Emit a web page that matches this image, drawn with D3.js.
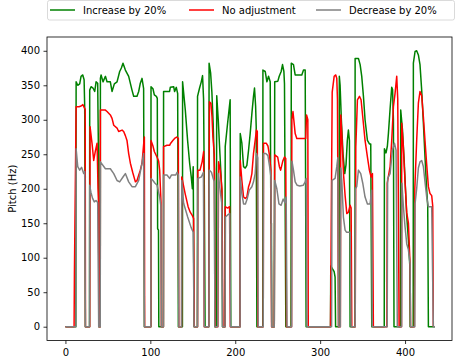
<!DOCTYPE html>
<html>
<head>
<meta charset="utf-8">
<script src="https://cdn.jsdelivr.net/npm/d3@7"></script>
<style>
  body { margin: 0; background: #fff; }
  svg { display: block; font-family: "DejaVu Sans", sans-serif; }
</style>
</head>
<body>
<div id="chart"></div>
<script>
// frame index vs pitch (Hz)
const seriesNames = ["Increase by 20%", "No adjustment", "Decrease by 20%"];
const seriesColors = ["green", "red", "gray"];
const xTicks = [0, 100, 200, 300, 400];
const yTicks = [0, 50, 100, 150, 200, 250, 300, 350, 400];

const increasePitch = [
  [0,0],[12.2,0],[12.6,355],[14.5,350],[16.8,352],[18.4,363],[20.4,365],[22,358],[22.7,319],[23.5,0],
  [28.4,0],[28.6,343],[30.2,348],[32.5,346],[34.5,341],[36.1,355],[38,353],[39,240],[39.4,0],
  [41,0],[41.2,360],[42,365],[44.3,355],[47.1,363],[49,355],[52.9,355],[54.9,341],[57.6,352],[60.8,355],
  [63.9,370],[65.9,375],[67.8,382],[70.6,372],[74.5,363],[78.4,343],[80.4,334],[84.3,334],[86.3,341],
  [88.2,353],[90.2,360],[92.1,345],[93,0],
  [100.6,0],[100.8,348],[103.1,345],[104.7,336],[107.1,334],[108.2,331],[108.6,142],[109.6,140],[110,0],
  [115.4,0],[115.6,341],[119.6,341],[122.7,341],[123.5,347],[127.5,348],[128.6,341],[130.6,347],[132.2,338],[133,0],
  [137.8,0],[138,355],[141.2,314],[143.9,270],[146.3,237],[148.2,217],[149.5,200],[150.5,232],[151.5,0],
  [155.4,0],[155.6,334],[158,346],[160,355],[161.5,364],[162.7,330],[163.5,217],[164.5,0],
  [168.8,0],[169.2,382],[171,368],[172.5,340],[174,295],[175.5,230],[176,0],
  [177.6,0],[178.2,335],[180,300],[182,250],[184.3,195],[185,0],
  [187.8,0],[188.2,261],[191,295],[194,329],[194.8,0],
  [205.7,0],[205.9,280],[207.8,266],[209.8,232],[211.8,230],[213.7,234],[215.7,256],[217.6,280],[219.6,309],
  [221.5,334],[222.7,346],[224,320],[224.7,290],[225.5,0],
  [232.4,0],[232.6,372],[235.3,370],[237.3,355],[239.2,363],[241.2,355],[242,150],[242.6,150],[243,0],
  [246,0],[246.5,355],[250.2,356],[251.8,363],[254.1,370],[255.7,380],[257.3,370],[258,352],[259.6,0],
  [265.7,0],[266,382],[268.6,380],[270.6,365],[274.5,365],[278.4,365],[280.4,372],[282.4,372],[283.5,0],
  [312.2,0],[312.5,88],[316.5,80],[317.6,72],[318.2,0],
  [322.2,0],[322.6,363],[323.5,350],[325,300],[327,250],[329,222],[330.5,235],[332,270],[333.3,285],[334.5,270],[335.3,0],
  [341,0],[341.2,389],[345.1,389],[347.1,380],[349,363],[351,334],[352.9,300],[355.7,270],[358,265],[359.6,265],[360.8,0],
  [375.5,0],[375.7,258],[377.6,252],[379.2,262],[380.4,280],[382.4,316],[384.3,347],[385.3,344],[386.3,300],[387,0],
  [394.5,0],[394.9,314],[397,285],[399,240],[400.5,200],[402,160],[404,125],[405.5,91],[406,0],
  [409.6,0],[409.8,382],[411.8,399],[413.7,400],[415.7,394],[417.6,380],[419.6,343],[421.6,295],[423.5,246],
  [425.5,198],[426.7,175],[427.5,0],[435.3,0]
];

const noAdjustPitch = [
  [0,0],[10.2,0],[10.6,77],[12.6,319],[13.7,319],[16,319],[18.5,320],[20.5,322],[22.5,317],[23.3,315],[23.6,0],
  [28.6,0],[29,290],[31.4,265],[33.3,241],[35.3,255],[37.3,266],[38.4,200],[39,183],[39.5,0],
  [41,0],[41.2,314],[47.1,314],[49,312],[52.9,307],[54.9,302],[56.9,292],[60.8,288],[62.7,283],[66.7,285],
  [68.6,283],[70.6,277],[72.5,270],[74.5,251],[76.5,237],[79.2,224],[82.4,210],[84.3,212],[88.2,227],
  [90.2,237],[92.5,270],[93,275],[93.3,0],
  [100.6,0],[100.8,270],[103.1,262],[104.7,254],[107.8,246],[109.8,240],[111,227],[111.8,203],[112.6,180],[113,0],
  [115.4,0],[115.6,261],[119.6,263],[122.7,263],[124,266],[126.5,270],[128.6,273],[131,275],[133,273],[133.5,0],
  [136.8,0],[137,217],[141,193],[144.5,174],[147,166],[149.5,161],[151,157],[151.8,0],
  [155.6,0],[156,227],[158.5,227],[161,239],[162.8,254],[163.5,0],
  [168.8,0],[169.6,326],[171.4,324],[172.6,305],[173.7,275],[175.3,250],[176.5,0],
  [179.5,0],[180.4,239],[182.4,227],[184.3,200],[185.5,0],
  [188,0],[188.2,174],[191,172],[193.3,174],[194.2,0],
  [205.7,0],[205.9,241],[207.8,212],[209.8,188],[211.8,186],[213.7,188],[215.7,203],[217.6,210],[219.6,222],
  [221.5,251],[223.5,270],[225,285],[226,283],[226.6,0],
  [233,0],[233.3,266],[236.5,266],[238.5,262],[240.4,248],[242,227],[242.8,0],
  [246,0],[246.5,249],[250,246],[252,232],[253.5,227],[256,240],[258,246],[259.5,244],[260.4,0],
  [266.3,0],[266.7,300],[268,312],[270.6,280],[272.5,273],[283,273],[284,307],[285.5,300],[286,0],
  [312.2,0],[313,140],[314.2,340],[316.5,363],[318.4,365],[319.6,360],[320.4,330],[321.6,0],
  [323.8,0],[324.3,307],[325.5,280],[327.5,222],[329.4,190],[331.4,164],[333.3,166],[335.3,176],[336.5,172],[337.3,0],
  [341.3,0],[342,260],[343.9,329],[346.3,334],[348.2,329],[350.2,304],[352.9,270],[355.7,246],[358,227],
  [360,217],[361.6,222],[362.7,0],
  [378.6,0],[379,208],[382.4,232],[384.3,270],[386.3,319],[388.2,338],[390.2,363],[391.4,330],[393,0],
  [395.8,0],[396.1,295],[398,260],[400,210],[402,165],[404,150],[405.9,90],[406.5,0],
  [411,0],[411.5,200],[413.7,270],[415.7,324],[417.6,341],[419.6,335],[421.6,304],[423.5,270],[425.5,235],
  [427.5,203],[429.4,193],[431.4,190],[432.6,175],[433.3,0]
];

const decreasePitch = [
  [0,0],[12.4,0],[12.6,258],[14.5,232],[16.8,227],[19,231],[21.5,222],[22.7,225],[23.5,0],
  [28.4,0],[28.6,205],[30,195],[32,186],[34,181],[36,183],[38,180],[39.2,0],
  [41,0],[41.2,239],[47.1,229],[52.9,229],[56.9,222],[60.8,212],[63.9,210],[67.8,217],[70.6,222],[74.5,210],
  [78.4,203],[82.4,203],[86.3,212],[90.2,237],[92.1,251],[93,0],
  [100.6,0],[100.8,215],[103.1,212],[105.5,208],[108,205],[111,188],[112.4,175],[113,0],
  [115.4,0],[115.6,220],[119.6,220],[122.7,215],[125,220],[130,220],[131.5,224],[133,220],[133.6,0],
  [136.8,0],[137,212],[139.2,179],[144,159],[148,144],[150.5,137],[151.5,0],
  [155.6,0],[156,215],[160,217],[162.5,224],[163.5,0],
  [169,0],[169.4,227],[172,224],[174,215],[175.5,210],[176,0],
  [179.5,0],[180,222],[182,200],[184,180],[185,0],
  [188,0],[188.5,159],[191,162],[193.5,164],[194.5,0],
  [205.7,0],[205.9,217],[207.8,193],[209.8,178],[212,178],[214,185],[216.5,198],[219.6,203],[221.5,210],
  [223.5,222],[225,251],[226.5,245],[227,0],
  [233,0],[233.3,251],[236,251],[238.5,248],[240.5,232],[242,217],[243,0],
  [246,0],[246.5,212],[249,200],[251.5,178],[254,176],[256.5,185],[258.5,180],[260,188],[261,0],
  [266.5,0],[266.8,240],[268.6,227],[270.6,210],[273,205],[276,204],[280,205],[282.4,210],[283.5,215],[284.5,0],
  [313.5,0],[314,212],[317.6,215],[319.6,232],[320.8,245],[321.6,0],
  [323.8,0],[324.3,230],[325.5,212],[327.4,159],[329.4,140],[331,137],[335.3,137],[336.5,0],
  [341.3,0],[341.6,200],[343.1,203],[345.1,227],[347.8,222],[350.2,208],[352.9,188],[355.7,178],[358.8,178],
  [360.8,198],[361.4,0],
  [379,0],[379.5,215],[382.4,222],[385.1,256],[387.5,266],[389.4,256],[390.9,0],
  [396,0],[396.3,208],[398,175],[400,145],[402,120],[403.9,112],[405.9,91],[406.5,0],
  [411.5,0],[411.8,178],[413.7,200],[415.7,230],[417.6,239],[419.6,241],[421.6,232],[423.5,210],[425.5,188],
  [427.5,174],[431.4,174],[433.3,0],[435.3,0]
];

const allSeries = [increasePitch, noAdjustPitch, decreasePitch];

const W = 456, H = 360;
const margin = { top: 37, right: 4, bottom: 19.5, left: 47 };
const width = W - margin.left - margin.right;
const height = H - margin.top - margin.bottom;

const svg = d3.select("#chart").append("svg")
  .attr("width", W)
  .attr("height", H);

const g = svg.append("g").attr("transform", `translate(${margin.left},${margin.top})`);

const xScale = d3.scaleLinear().domain([-21.7, 455.3]).range([0, width]);
const yScale = d3.scaleLinear().domain([-20, 420]).range([height, 0]);

g.append("clipPath").attr("id", "plot-clip")
  .append("rect").attr("width", width).attr("height", height);

const line = d3.line()
  .x((d) => xScale(d[0]))
  .y((d) => yScale(d[1]));

g.append("g").attr("clip-path", "url(#plot-clip)")
  .selectAll("path")
  .data(allSeries)
  .enter()
  .append("path")
  .attr("fill", "none")
  .attr("stroke", (d, i) => seriesColors[i])
  .attr("stroke-width", 1.5)
  .attr("stroke-linejoin", "round")
  .attr("d", line);

// axes
const xAxis = g.append("g")
  .attr("transform", `translate(0,${height})`)
  .call(d3.axisBottom(xScale).tickValues(xTicks).tickSize(3.5).tickPadding(4.5).tickFormat(d3.format("d")));
const yAxis = g.append("g")
  .call(d3.axisLeft(yScale).tickValues(yTicks).tickSize(3.5).tickPadding(3.5).tickFormat(d3.format("d")));

[xAxis, yAxis].forEach((ax) => {
  ax.select(".domain").remove();
  ax.selectAll("line").attr("stroke", "#000").attr("stroke-width", 0.8);
  ax.selectAll("text")
    .attr("fill", "#000")
    .style("font-size", "10px")
    .style("font-family", "DejaVu Sans");
});

g.append("rect")
  .attr("width", width)
  .attr("height", height)
  .attr("fill", "none")
  .attr("stroke", "#000")
  .attr("stroke-width", 0.8);

svg.append("text")
  .attr("transform", `translate(16,${margin.top + height / 2}) rotate(-90)`)
  .attr("text-anchor", "middle")
  .style("font-size", "10px")
  .text("Pitch (Hz)");

// legend
const legend = svg.append("g");
legend.append("rect")
  .attr("x", 47.5)
  .attr("y", 0.5)
  .attr("width", 407)
  .attr("height", 19.5)
  .attr("rx", 2)
  .attr("fill", "rgba(255,255,255,0.8)")
  .attr("stroke", "#d0d0d0")
  .attr("stroke-width", 0.8);

const legendX = [50, 189, 316];
const items = legend.selectAll(".item")
  .data(seriesNames)
  .enter()
  .append("g")
  .attr("class", "item")
  .attr("transform", (d, i) => `translate(${legendX[i]},10)`);

items.append("line")
  .attr("x1", 0).attr("x2", 25)
  .attr("stroke", (d, i) => seriesColors[i])
  .attr("stroke-width", 1.5);

items.append("text")
  .attr("x", 33)
  .attr("dy", "0.35em")
  .style("font-size", "10px")
  .text((d) => d);
</script>
</body>
</html>
